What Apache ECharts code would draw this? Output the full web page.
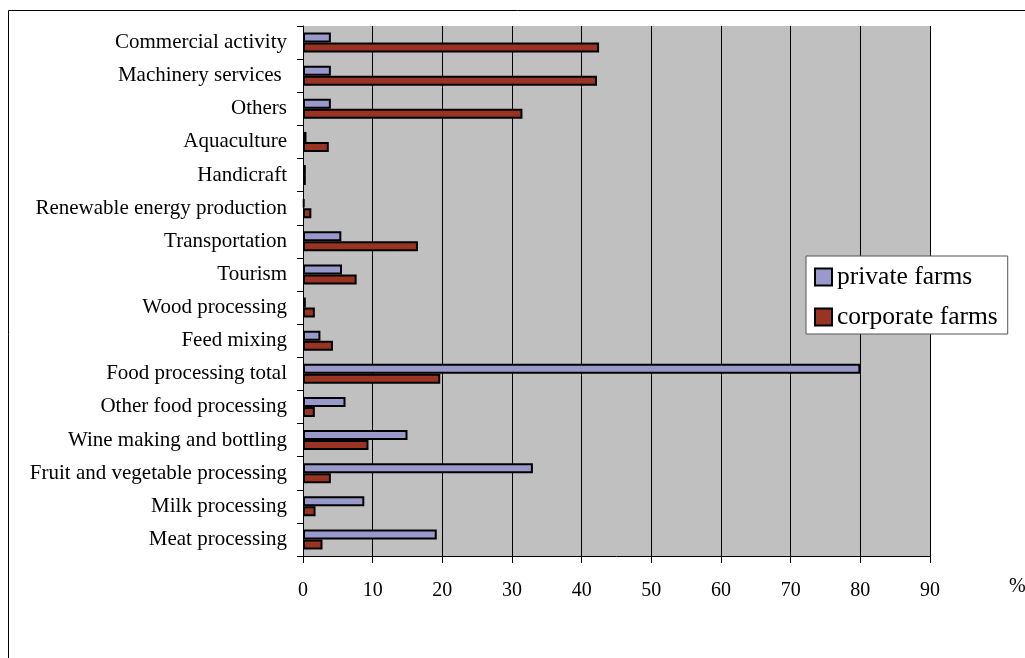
<!DOCTYPE html>
<html>
<head>
<meta charset="utf-8">
<script src="https://cdn.jsdelivr.net/npm/echarts@6/dist/echarts.min.js"></script>
<style>
  html, body { margin: 0; padding: 0; background: #ffffff; }
  #chart { width: 1025px; height: 658px; }
</style>
</head>
<body>
<div id="chart"></div>
<script>
// Activity categories, listed bottom to top along the vertical axis
const categories = [
  'Meat processing',
  'Milk processing',
  'Fruit and vegetable processing',
  'Wine making and bottling',
  'Other food processing',
  'Food processing total',
  'Feed mixing',
  'Wood processing',
  'Tourism',
  'Transportation',
  'Renewable energy production',
  'Handicraft',
  'Aquaculture',
  'Others',
  'Machinery services ',
  'Commercial activity'
];

// Share of farms (%) engaged in each activity
const privateFarms = [19.2, 8.8, 33.0, 15.0, 6.1, 80.0, 2.5, 0.4, 5.6, 5.5, 0.2, 0.4, 0.5, 4.0, 4.0, 4.0];
const corporateFarms = [2.8, 1.8, 4.0, 9.4, 1.7, 19.7, 4.3, 1.7, 7.7, 16.5, 1.2, 0.4, 3.7, 31.5, 42.2, 42.5];

const xTicks = { min: 0, max: 90, interval: 10 };

const font = 'Liberation Serif, Times New Roman, serif';

const chart = echarts.init(document.getElementById('chart'), null, { renderer: 'canvas' });

chart.setOption({
  animation: false,
  backgroundColor: '#ffffff',
  grid: { left: 303, right: 95, top: 26, bottom: 102, show: true, backgroundColor: '#c0c0c0', borderWidth: 0 },
  legend: {
    data: ['private farms', 'corporate farms'],
    orient: 'vertical',
    left: 806,
    top: 256,
    padding: [8, 10, 4, 8],
    itemGap: 14,
    itemWidth: 17,
    itemHeight: 17,
    icon: 'rect',
    backgroundColor: '#ffffff',
    borderColor: '#555555',
    borderWidth: 1,
    textStyle: { fontFamily: font, fontSize: 25.5, color: '#000000' }
  },
  xAxis: {
    type: 'value',
    min: xTicks.min,
    max: xTicks.max,
    interval: xTicks.interval,
    axisLine: { show: true, lineStyle: { color: '#000000', width: 1 } },
    axisTick: { show: true, length: 7, lineStyle: { color: '#000000' } },
    axisLabel: { fontFamily: font, fontSize: 20, color: '#000000', margin: 25 },
    splitLine: { show: true, lineStyle: { color: '#000000', width: 1 } }
  },
  yAxis: {
    type: 'category',
    data: categories,
    axisLine: { show: true, lineStyle: { color: '#000000', width: 1 } },
    axisTick: { show: true, length: 6, lineStyle: { color: '#000000' } },
    axisLabel: { fontFamily: font, fontSize: 21, color: '#000000', margin: 16 },
    splitLine: { show: false }
  },
  graphic: [
    {
      type: 'rect',
      shape: { x: 8.5, y: 10.5, width: 1200, height: 800 },
      style: { fill: 'none', stroke: '#000000', lineWidth: 1 },
      silent: true
    },
    {
      type: 'text',
      left: 1009,
      top: 577,
      style: { text: '%', font: '20px ' + font, fill: '#000000' }
    }
  ],
  series: [
    {
      name: 'private farms',
      type: 'bar',
      data: privateFarms,
      barWidth: 10,
      barGap: '0%',
      itemStyle: { color: '#9999cc', borderColor: '#000000', borderWidth: 2 }
    },
    {
      name: 'corporate farms',
      type: 'bar',
      data: corporateFarms,
      barWidth: 10,
      barGap: '0%',
      itemStyle: { color: '#993322', borderColor: '#000000', borderWidth: 2 }
    }
  ]
});
</script>
</body>
</html>
